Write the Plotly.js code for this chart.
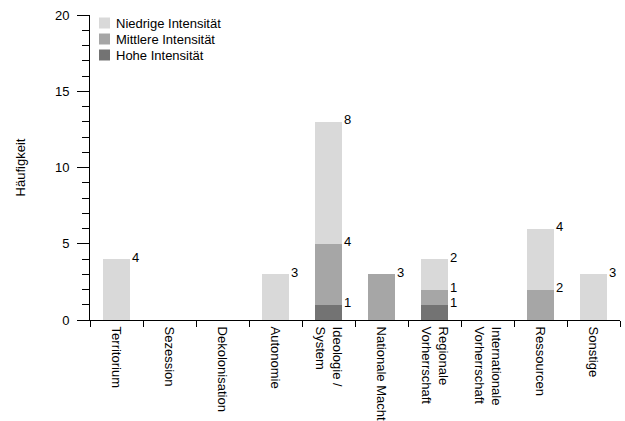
<!DOCTYPE html>
<html>
<head>
<meta charset="utf-8">
<script src="https://cdn.plot.ly/plotly-3.0.1.min.js"></script>
<style>
  html, body { margin: 0; padding: 0; background: #fff; }
  #chart { width: 625px; height: 421px; }
</style>
</head>
<body>
<div id="chart"></div>
<script>
// Conflict categories (x axis)
const categories = [
  'Territorium', 'Sezession', 'Dekolonisation', 'Autonomie',
  'Ideologie /<br>System', 'Nationale Macht', 'Regionale<br>Vorherrschaft',
  'Internationale<br>Vorherrschaft', 'Ressourcen', 'Sonstige'
];

// Counts per intensity level, stacked bottom to top
const hoheIntensitaet     = [0, 0, 0, 0, 1, 0, 1, 0, 0, 0];
const mittlereIntensitaet = [0, 0, 0, 0, 4, 3, 1, 0, 2, 0];
const niedrigeIntensitaet = [4, 0, 0, 3, 8, 0, 2, 0, 4, 3];

const seriesNames  = ['Hohe Intensität', 'Mittlere Intensität', 'Niedrige Intensität'];
const seriesValues = [hoheIntensitaet, mittlereIntensitaet, niedrigeIntensitaet];
const seriesColors = ['#737373', '#a6a6a6', '#d9d9d9'];

const yTickVals = [0, 5, 10, 15, 20];

const FONT = '"Liberation Sans", Arial, Helvetica, sans-serif';
const FS = 13;
const BAR_WIDTH = 0.5;

// Plot frame in pixels
const W = 625, H = 421;
const M = { l: 90, r: 5, t: 15, b: 101 };
const plotW = W - M.l - M.r, plotH = H - M.t - M.b;
const px2x = px => (px - M.l) / plotW;
const px2y = py => (H - M.b - py) / plotH;

const traces = seriesValues.map((vals, s) => ({
  type: 'bar',
  name: seriesNames[s],
  x: categories,
  y: vals,
  width: BAR_WIDTH,
  marker: { color: seriesColors[s], line: { width: 0 } },
  hoverinfo: 'x+y+name'
}));

// Value labels beside the top edge of each non-empty segment
const annotations = [];
const running = categories.map(() => 0);
seriesValues.forEach(vals => {
  vals.forEach((v, i) => {
    running[i] += v;
    if (v > 0) {
      annotations.push({
        x: i + BAR_WIDTH / 2, y: running[i], xref: 'x', yref: 'y',
        text: String(v), showarrow: false,
        xanchor: 'left', yanchor: 'middle', yshift: 2,
        font: { family: FONT, size: FS, color: '#000' }
      });
    }
  });
});

// Compact legend in the upper left corner (top entry = top of the stack)
const shapes = [];
const legendOrder = [2, 1, 0];
legendOrder.forEach((s, row) => {
  const cy = 23 + row * 16;
  shapes.push({
    type: 'rect', xref: 'paper', yref: 'paper',
    x0: px2x(99), x1: px2x(110), y0: px2y(cy + 5.5), y1: px2y(cy - 5.5),
    fillcolor: seriesColors[s], line: { width: 0 }
  });
  annotations.push({
    xref: 'paper', yref: 'paper', x: px2x(114), y: px2y(cy),
    xanchor: 'left', yanchor: 'middle', showarrow: false,
    text: seriesNames[s],
    font: { family: FONT, size: FS, color: '#000' }
  });
});

const layout = {
  width: W, height: H,
  margin: M,
  paper_bgcolor: '#fff', plot_bgcolor: '#fff',
  font: { family: FONT, size: FS, color: '#000' },
  barmode: 'stack',
  showlegend: false,
  xaxis: {
    type: 'category',
    range: [-0.5, categories.length - 0.5],
    showgrid: false, zeroline: false,
    showline: true, linecolor: '#000', linewidth: 1,
    ticks: 'outside', tickson: 'boundaries', ticklen: 6, tickcolor: '#000',
    tickangle: 90,
    ticklabelstandoff: 3,
    tickfont: { family: FONT, size: FS, color: '#000' },
    fixedrange: true
  },
  yaxis: {
    range: [0, 20],
    tickvals: yTickVals,
    ticktext: yTickVals.map(String),
    showgrid: false, zeroline: false,
    showline: true, linecolor: '#000', linewidth: 1,
    ticks: 'outside', ticklen: 12, tickcolor: '#000',
    ticklabelstandoff: 5,
    minor: { dtick: 1, ticks: 'outside', ticklen: 7, tickcolor: '#000', showgrid: false },
    tickfont: { family: FONT, size: FS, color: '#000' },
    title: { text: 'Häufigkeit', font: { family: FONT, size: FS, color: '#000' }, standoff: 26 },
    fixedrange: true
  },
  shapes: shapes,
  annotations: annotations
};

Plotly.newPlot('chart', traces, layout, { displayModeBar: false, staticPlot: true });
</script>
</body>
</html>
